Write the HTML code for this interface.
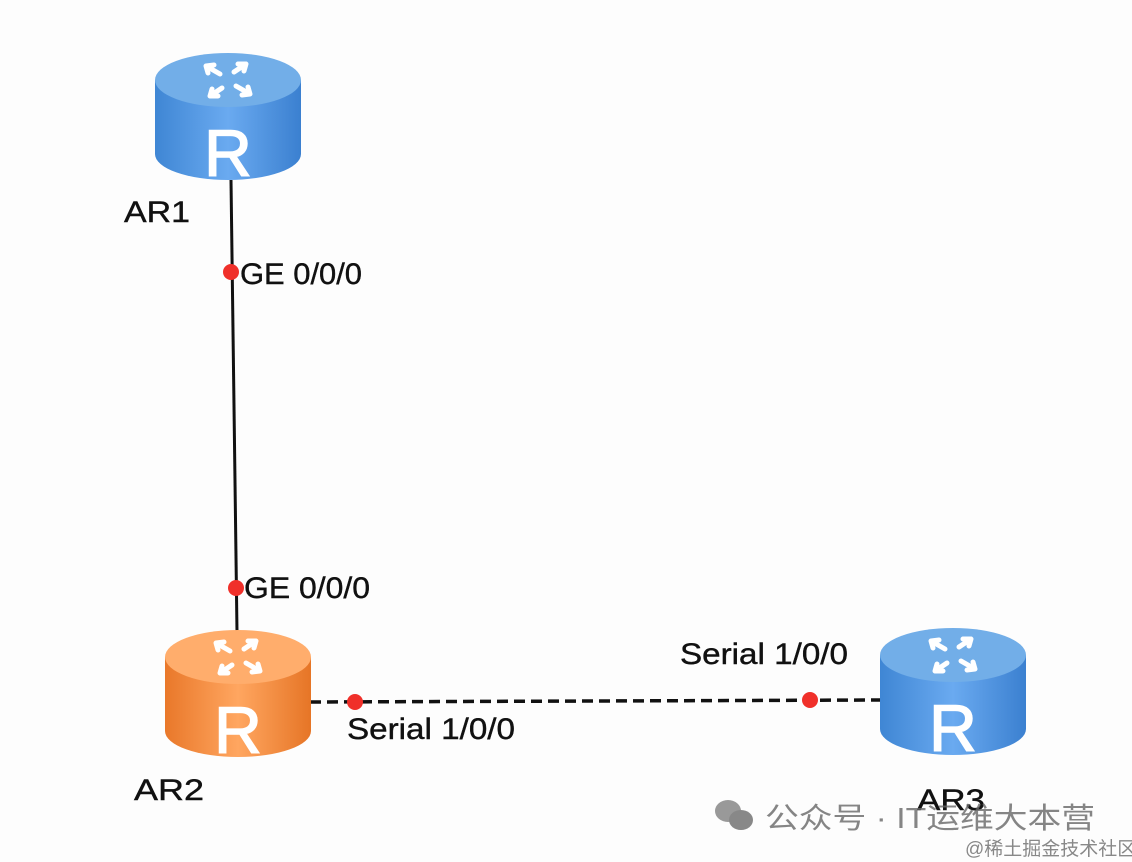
<!DOCTYPE html>
<html><head><meta charset="utf-8"><style>
html,body{margin:0;padding:0;background:#fdfdfd;}
svg{display:block;}
</style></head><body>
<svg width="1132" height="862" viewBox="0 0 1132 862" xmlns="http://www.w3.org/2000/svg">
<defs>
<linearGradient id="bb" x1="0" x2="1" y1="0" y2="0">
<stop offset="0" stop-color="#3f86d4"/><stop offset="0.5" stop-color="#6aaaf0"/><stop offset="1" stop-color="#3b80d0"/></linearGradient>
<linearGradient id="ob" x1="0" x2="1" y1="0" y2="0">
<stop offset="0" stop-color="#e9782a"/><stop offset="0.5" stop-color="#ffa660"/><stop offset="1" stop-color="#e67526"/></linearGradient>
<g id="arrows" fill="none" stroke="#fff" stroke-width="5" stroke-linecap="round">
<path d="M-8,-6 L-22,-14 M-22,-14 l8,-1 M-22,-14 l2,7"/>
<path d="M8,6 L22,14 M22,14 l-8,1 M22,14 l-2,-7"/>
<path d="M6,-8 L18,-16 M18,-16 l-2,7 M18,-16 l-8,0"/>
<path d="M-6,8 L-18,16 M-18,16 l2,-7 M-18,16 l8,0"/>
</g>
</defs>
<rect width="1132" height="862" fill="#fdfdfd"/>
<line x1="231" y1="180" x2="237" y2="632" stroke="#111" stroke-width="3"/>
<line x1="310" y1="702" x2="882" y2="700" stroke="#111" stroke-width="3.5" stroke-dasharray="11,6"/>
<g transform="translate(228,0)">
<path d="M-73,80 L-73,154 A73,26 0 0 0 73,154 L73,80 Z" fill="url(#bb)"/>
<ellipse cx="0" cy="80" rx="73" ry="27" fill="#72aee8"/>
<use href="#arrows" transform="translate(0,80)"/>
<text x="0" y="176" text-anchor="middle" font-family="Liberation Sans,sans-serif" font-size="66" fill="#fff" stroke="#fff" stroke-width="1.5">R</text>
</g>
<g transform="translate(238,577)">
<path d="M-73,80 L-73,154 A73,26 0 0 0 73,154 L73,80 Z" fill="url(#ob)"/>
<ellipse cx="0" cy="80" rx="73" ry="27" fill="#ffad6c"/>
<use href="#arrows" transform="translate(0,80)"/>
<text x="0" y="176" text-anchor="middle" font-family="Liberation Sans,sans-serif" font-size="66" fill="#fff" stroke="#fff" stroke-width="1.5">R</text>
</g>
<g transform="translate(953,575)">
<path d="M-73,80 L-73,154 A73,26 0 0 0 73,154 L73,80 Z" fill="url(#bb)"/>
<ellipse cx="0" cy="80" rx="73" ry="27" fill="#72aee8"/>
<use href="#arrows" transform="translate(0,80)"/>
<text x="0" y="176" text-anchor="middle" font-family="Liberation Sans,sans-serif" font-size="66" fill="#fff" stroke="#fff" stroke-width="1.5">R</text>
</g>
<g fill="#f0302a">
<circle cx="231" cy="272" r="8"/><circle cx="236" cy="588" r="8"/>
<circle cx="355" cy="702" r="8"/><circle cx="810" cy="700" r="8"/>
</g>
<g font-family="Liberation Sans,sans-serif" font-size="30" fill="#111" stroke="#111" stroke-width="0.4">
<text x="124" y="222" textLength="66" lengthAdjust="spacingAndGlyphs">AR1</text>
<text x="240" y="284" textLength="122" lengthAdjust="spacingAndGlyphs">GE 0/0/0</text>
<text x="244" y="598" textLength="126" lengthAdjust="spacingAndGlyphs">GE 0/0/0</text>
<text x="134" y="800" textLength="70" lengthAdjust="spacingAndGlyphs">AR2</text>
<text x="347" y="739" textLength="168" lengthAdjust="spacingAndGlyphs">Serial 1/0/0</text>
<text x="680" y="664" textLength="168" lengthAdjust="spacingAndGlyphs">Serial 1/0/0</text>
<text x="917" y="810" textLength="68" lengthAdjust="spacingAndGlyphs">AR3</text>
</g>
<g fill="#999">
<ellipse cx="728" cy="811" rx="13" ry="11"/>
<ellipse cx="741" cy="820" rx="12" ry="10" fill="#888"/>
</g>
<text x="765" y="828" textLength="330" lengthAdjust="spacingAndGlyphs" font-family="Liberation Sans,Noto Sans CJK SC,sans-serif" font-size="29" fill="#666" fill-opacity="0.8">公众号 · IT运维大本营</text>
<text x="965" y="855" font-family="Liberation Sans,Noto Sans CJK SC,sans-serif" font-size="19" fill="#888">@稀土掘金技术社区</text>
</svg>
</body></html>
